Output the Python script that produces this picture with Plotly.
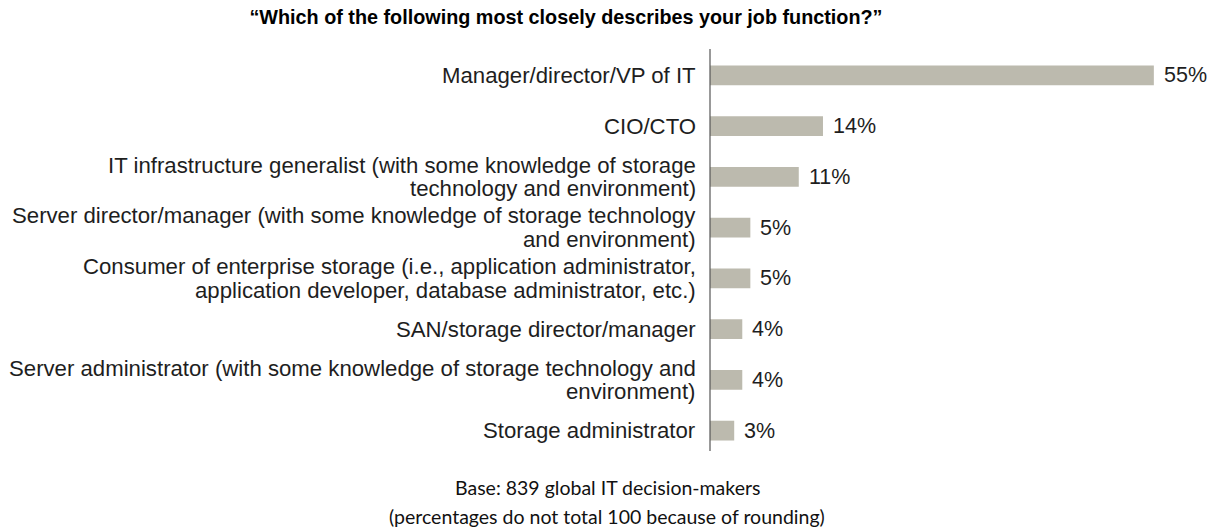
import plotly.graph_objects as go

# ---- data ----
categories = [
    "Manager/director/VP of IT",
    "CIO/CTO",
    "IT infrastructure generalist (with some knowledge of storage\ntechnology and environment)",
    "Server director/manager (with some knowledge of storage technology\nand environment)",
    "Consumer of enterprise storage (i.e., application administrator,\napplication developer, database administrator, etc.)",
    "SAN/storage director/manager",
    "Server administrator (with some knowledge of storage technology and\nenvironment)",
    "Storage administrator",
]
values = [55, 14, 11, 5, 5, 4, 4, 3]
value_labels = [f"{v}%" for v in values]
title_text = "\u201cWhich of the following most closely describes your job function?\u201d"
footnote_lines = [
    "Base: 839 global IT decision-makers",
    "(percentages do not total 100 because of rounding)",
]

# ---- style ----
W, H = 1213, 529
L, T, B = 710, 50, 73
PW, PH = W - L, H - T - B
BAR_COLOR = "#BCBAAE"
TEXT_COLOR = "#1e1e1e"
LABEL_FONT = dict(family="Arial, Liberation Sans, sans-serif", size=22.2, color=TEXT_COLOR)
VALUE_FONT = dict(family="Arial, Liberation Sans, sans-serif", size=21.5, color=TEXT_COLOR)
LINE_STEP = 23.5

fig = go.Figure()
fig.add_trace(go.Bar(
    x=values,
    y=categories,
    orientation="h",
    marker=dict(color=BAR_COLOR, line=dict(width=0)),
    width=0.39,
    hoverinfo="skip",
))

annotations = []
# category labels (each line placed separately for tight line spacing)
for cat in categories:
    lines = cat.split("\n")
    n = len(lines)
    for i, ln in enumerate(lines):
        offset = ((n - 1) / 2 - i) * LINE_STEP
        annotations.append(dict(
            x=0, y=cat, xref="x", yref="y", text=ln, showarrow=False,
            xanchor="right", yanchor="middle", xshift=-12, yshift=offset,
            font=LABEL_FONT,
        ))
# value labels
for cat, v, lab in zip(categories, values, value_labels):
    annotations.append(dict(
        x=v, y=cat, xref="x", yref="y", text=lab, showarrow=False,
        xanchor="left", yanchor="middle", xshift=8,
        font=VALUE_FONT,
    ))
# footnote (pixel positions converted to plot-area paper fractions)
for i, ln in enumerate(footnote_lines):
    px_x, px_y = 607, 487 + 29 * i
    annotations.append(dict(
        x=(px_x - L) / PW, y=(H - B - px_y) / PH, xref="paper", yref="paper",
        text=ln, showarrow=False, xanchor="center", yanchor="middle",
        font=dict(family="Lato, sans-serif", size=19.5, color="#111111"),
    ))

# vertical axis line
axis_top_px, axis_bot_px = 49, 451
shapes = [dict(
    type="line", xref="paper", yref="paper", x0=0, x1=0,
    y0=(H - B - axis_bot_px) / PH, y1=(H - B - axis_top_px) / PH,
    line=dict(color="#555555", width=1.2),
)]

px_per_unit = 8.07
fig.update_layout(
    width=W, height=H,
    margin=dict(l=L, r=0, t=T, b=B, pad=0),
    paper_bgcolor="white", plot_bgcolor="white",
    showlegend=False,
    title=dict(
        text=title_text, x=566 / W, xref="container", xanchor="center",
        y=1 - 17.5 / H, yref="container", yanchor="middle",
        font=dict(family="Arial, Liberation Sans, sans-serif", size=19.8, color="#000000", weight="bold"),
    ),
    xaxis=dict(range=[0, PW / px_per_unit], visible=False, fixedrange=True),
    yaxis=dict(
        categoryorder="array", categoryarray=categories, autorange="reversed",
        showticklabels=False, ticks="", showgrid=False, zeroline=False,
        showline=False, fixedrange=True,
    ),
    shapes=shapes,
    annotations=annotations,
)

fig.write_html("out.html")
